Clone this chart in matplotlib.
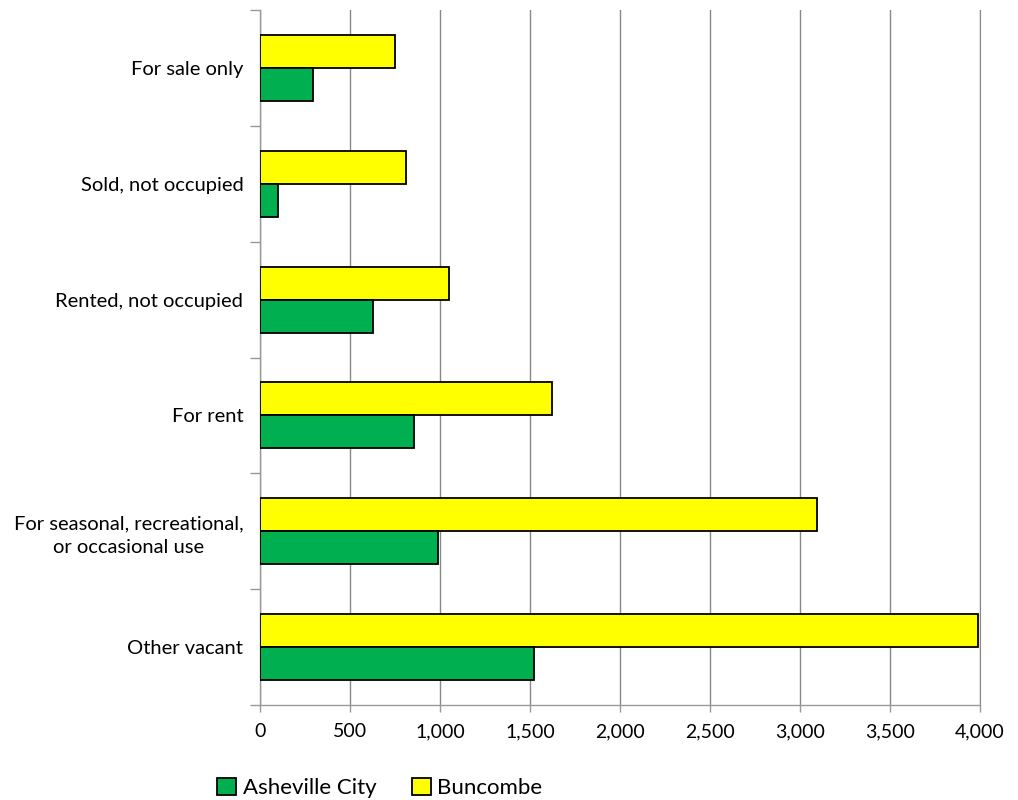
import matplotlib
matplotlib.use("Agg")
import matplotlib.pyplot as plt
import numpy as np

categories = [
    "For sale only",
    "Sold, not occupied",
    "Rented, not occupied",
    "For rent",
    "For seasonal, recreational,\nor occasional use",
    "Other vacant",
]
asheville = [296, 98, 626, 856, 991, 1520]
buncombe = [750, 811, 1052, 1622, 3093, 3987]
xticks = [0, 500, 1000, 1500, 2000, 2500, 3000, 3500, 4000]

plt.rcParams["font.family"] = ["Lato", "DejaVu Sans"]

fig = plt.figure(figsize=(10.18, 8), dpi=100)
ax = fig.add_axes([260 / 1018, 1 - 705 / 800, 720 / 1018, 695 / 800])

y = np.arange(len(categories))
h = 0.285
ax.barh(y - h / 2, buncombe, height=h, color="#FFFF00", edgecolor="black",
        linewidth=1.3, label="Buncombe", zorder=3)
ax.barh(y + h / 2, asheville, height=h, color="#00B050", edgecolor="black",
        linewidth=1.3, label="Asheville City", zorder=3)

ax.set_ylim(len(categories) - 0.5, -0.5)
ax.set_xlim(0, 4000)
ax.set_xticks(xticks)
ax.set_xticklabels([f"{v:,}" for v in xticks], fontsize=14)
ax.set_yticks(y)
ax.set_yticklabels(categories, fontsize=14.5, multialignment="center",
                   linespacing=1.45)
ax.set_yticks(np.arange(len(categories) + 1) - 0.5, minor=True)
ax.tick_params(axis="y", which="major", length=0, pad=12)
ax.tick_params(axis="y", which="minor", length=7, color="#999999", width=1)
ax.tick_params(axis="x", length=5, color="#999999", width=1, pad=8)

ax.grid(axis="x", color="#888888", linewidth=1, zorder=0)
ax.spines["top"].set_visible(False)
ax.spines["right"].set_color("#888888")
for s in ["left", "bottom"]:
    ax.spines[s].set_color("#999999")
    ax.spines[s].set_linewidth(1)

handles, labels = ax.get_legend_handles_labels()
fig.legend(handles[::-1], labels[::-1], loc="center left",
           bbox_to_anchor=(197 / 1018, 1 - 788 / 800), ncol=2, frameon=False,
           fontsize=16, handlelength=0.85, handleheight=0.85, handletextpad=0.3,
           columnspacing=1.6)

fig.savefig("out.png", dpi=100)
